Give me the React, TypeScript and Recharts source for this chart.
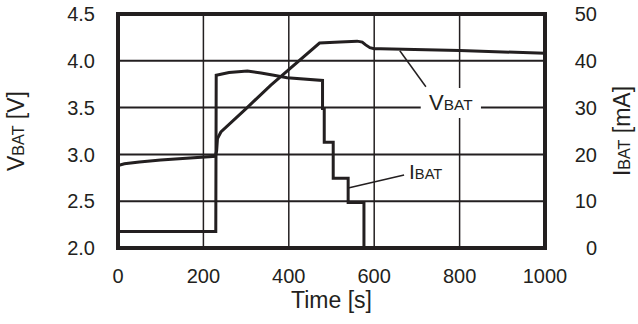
import React from 'react';
import { LineChart, Line, XAxis, YAxis, CartesianGrid, ReferenceArea, ReferenceLine, ReferenceDot, Label } from 'recharts';

const INK = '#231f20';
const FONT = '"Liberation Sans", Arial, sans-serif';

// axis ticks
const timeTicks = [0, 200, 400, 600, 800, 1000];
const voltTicks = [2.0, 2.5, 3.0, 3.5, 4.0, 4.5];
const currentTicks = [0, 10, 20, 30, 40, 50];

// battery voltage
const vbatTime = [0, 15, 50, 100, 160, 228, 231, 233, 241, 300, 358, 472, 520, 560, 572, 580, 590, 600, 615, 800, 1000];
const vbatVolts = [2.88, 2.9, 2.92, 2.94, 2.96, 2.98, 3.04, 3.17, 3.24, 3.49, 3.74, 4.19, 4.2, 4.21, 4.2, 4.17, 4.14, 4.13, 4.13, 4.11, 4.08];

// battery current (steps are pairs of points at the same time)
const ibatTime = [0, 229, 230, 260, 303, 335, 365, 396, 479, 479, 483, 483, 504, 504, 539, 539, 576, 576];
const ibatMilliamps = [3.5, 3.5, 36.9, 37.5, 37.8, 37.4, 36.9, 36.4, 35.8, 29.8, 29.8, 22.6, 22.6, 14.9, 14.9, 9.7, 9.7, 0];

const vbatData = vbatTime.map((t, i) => ({ t, v: vbatVolts[i] }));
const ibatData = ibatTime.map((t, i) => ({ t, i: ibatMilliamps[i] }));

// eslint-disable-next-line @typescript-eslint/no-explicit-any
const tickText = (anchor: 'start' | 'middle' | 'end', dy: string, digits: number) => (props: any) => {
    const { x, y, payload } = props;
    return (
        <text x={x} y={y} dy={dy} textAnchor={anchor} fill={INK} fontSize={20} fontFamily={FONT}>
            {Number(payload.value).toFixed(digits)}
        </text>
    );
};

// "V" + small "BAT" style name
const SubName = ({ big, small, rest }: { big: string; small: string; rest?: string }) => (
    <>
        <tspan>{big}</tspan>
        <tspan fontSize="0.7em">{small}</tspan>
        {rest ? <tspan>{rest}</tspan> : null}
    </>
);

export default function App() {
    return (
        <div style={{ width: 638, height: 324 }}>
            <style>{'body{margin:0}'}</style>
            <LineChart width={638} height={324} margin={{ top: 14, right: 0, bottom: 0, left: 0 }}>
                <CartesianGrid yAxisId="v" vertical={false} stroke={INK} strokeWidth={2} />
                <CartesianGrid yAxisId="v" horizontal={false} stroke={INK} strokeWidth={1.5} />
                <XAxis
                    type="number"
                    dataKey="t"
                    domain={[0, 1000]}
                    ticks={timeTicks}
                    allowDataOverflow
                    axisLine={false}
                    tickLine={false}
                    tickSize={0}
                    tickMargin={21}
                    height={76}
                    tick={tickText('middle', '0.71em', 0)}
                >
                    <Label
                        content={(p: any) => (
                            <text x={p.viewBox.x + p.viewBox.width / 2} y={p.viewBox.y + 60} textAnchor="middle" fill={INK} fontSize={23} fontFamily={FONT}>
                                Time [s]
                            </text>
                        )}
                    />
                </XAxis>
                <YAxis
                    yAxisId="v"
                    domain={[2, 4.5]}
                    ticks={voltTicks}
                    allowDataOverflow
                    axisLine={false}
                    tickLine={false}
                    tickSize={0}
                    tickMargin={23}
                    width={118}
                    tick={tickText('end', '0.36em', 1)}
                >
                    <Label
                        content={(p: any) => {
                            const cx = p.viewBox.x + 24;
                            const cy = p.viewBox.y + p.viewBox.height / 2;
                            return (
                                <text x={cx} y={cy} transform={`rotate(-90, ${cx}, ${cy})`} textAnchor="middle" fill={INK} fontSize={23} fontFamily={FONT}>
                                    <SubName big="V" small="BAT" rest=" [V]" />
                                </text>
                            );
                        }}
                    />
                </YAxis>
                <YAxis
                    yAxisId="i"
                    orientation="right"
                    domain={[0, 50]}
                    ticks={currentTicks}
                    allowDataOverflow
                    axisLine={false}
                    tickLine={false}
                    tickSize={0}
                    tickMargin={52}
                    width={93}
                    tick={tickText('end', '0.36em', 0)}
                >
                    <Label
                        content={(p: any) => {
                            const cx = p.viewBox.x + 85;
                            const cy = p.viewBox.y + p.viewBox.height / 2;
                            return (
                                <text x={cx} y={cy} transform={`rotate(-90, ${cx}, ${cy})`} textAnchor="middle" fill={INK} fontSize={23} fontFamily={FONT}>
                                    <SubName big="I" small="BAT" rest=" [mA]" />
                                </text>
                            );
                        }}
                    />
                </YAxis>

                {/* white patch behind the VBAT tag, cutting the grid */}
                <ReferenceArea yAxisId="v" x1={709} x2={850} y1={3.389} y2={3.709} fill="#fff" fillOpacity={1} stroke="none">
                    <Label
                        content={(p: any) => (
                            <text x={p.viewBox.x + p.viewBox.width / 2} y={p.viewBox.y + p.viewBox.height / 2} dy={6.5} textAnchor="middle" fill={INK} fontSize={22} fontFamily={FONT}>
                                <SubName big="V" small="BAT" />
                            </text>
                        )}
                    />
                </ReferenceArea>
                <ReferenceLine yAxisId="v" segment={[{ x: 660, y: 4.108 }, { x: 721, y: 3.723 }]} stroke={INK} strokeWidth={1.5} />
                <ReferenceLine yAxisId="i" segment={[{ x: 539, y: 12.8 }, { x: 670, y: 15.6 }]} stroke={INK} strokeWidth={1.5} />
                <ReferenceDot yAxisId="i" x={681.5} y={14.64} r={0} fill="none" stroke="none">
                    <Label
                        content={(p: any) => (
                            <text x={p.viewBox.x} y={p.viewBox.y} textAnchor="start" fill={INK} fontSize={21} fontFamily={FONT}>
                                <SubName big="I" small="BAT" />
                            </text>
                        )}
                    />
                </ReferenceDot>

                <Line
                    yAxisId="v"
                    data={vbatData}
                    dataKey="v"
                    type="linear"
                    stroke={INK}
                    strokeWidth={3}
                    dot={false}
                    activeDot={false}
                    isAnimationActive={false}
                />
                <Line
                    yAxisId="i"
                    data={ibatData}
                    dataKey="i"
                    type="linear"
                    stroke={INK}
                    strokeWidth={3}
                    dot={false}
                    activeDot={false}
                    isAnimationActive={false}
                />

                {/* heavy frame around the plot */}
                <ReferenceArea yAxisId="v" x1={0} x2={1000} y1={2} y2={4.5} fill="none" stroke={INK} strokeWidth={4} />
            </LineChart>
        </div>
    );
}
